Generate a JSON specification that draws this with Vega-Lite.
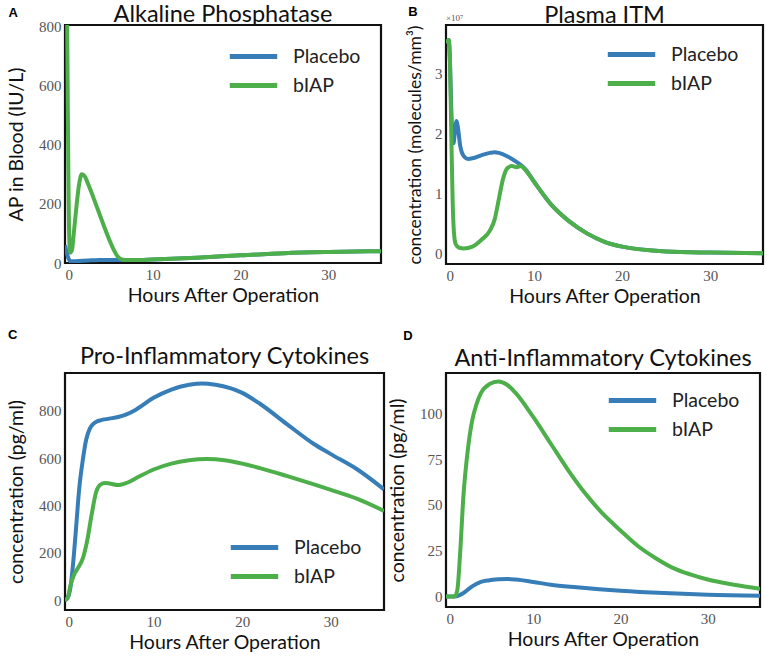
{
  "$schema": "https://vega.github.io/schema/vega-lite/v6.json",
  "padding": {"left": 5, "top": 1, "right": 5, "bottom": 5},
  "background": "white",
  "bounds": "flush",
  "config": {
    "view": {"stroke": "#111", "strokeWidth": 2.2},
    "axis": {"domain": false, "ticks": false, "grid": false, "labelFont": "Liberation Serif", "labelFontSize": 15, "labelColor": "#555", "titleFont": "Lato", "titleFontSize": 19.5, "titleFontWeight": "normal", "titleColor": "#111", "labelPadding": 4},
    "axisX": {"titlePadding": 4},
    "title": {"font": "Lato", "fontSize": 23.5, "fontWeight": "normal", "color": "#111", "frame": "group"},
    "legend": {"symbolType": "M-1.5,0H1.5", "symbolStrokeWidth": 5, "symbolSize": 1000, "labelFont": "Lato", "labelFontSize": 19.5, "labelColor": "#222", "title": null, "orient": "none", "labelOffset": 21, "rowPadding": -1}
  },
  "datasets": {
    "curves": [
      {"p": "A", "g": "Placebo", "t": 0, "v": 60}, {"p": "A", "g": "Placebo", "t": 0.2, "v": 35}, {"p": "A", "g": "Placebo", "t": 0.4, "v": 15}, {"p": "A", "g": "Placebo", "t": 0.6, "v": 6}, {"p": "A", "g": "Placebo", "t": 1, "v": 6}, {"p": "A", "g": "Placebo", "t": 2, "v": 8}, {"p": "A", "g": "Placebo", "t": 3, "v": 9}, {"p": "A", "g": "Placebo", "t": 4, "v": 10}, {"p": "A", "g": "Placebo", "t": 5, "v": 10}, {"p": "A", "g": "Placebo", "t": 6, "v": 10}, {"p": "A", "g": "Placebo", "t": 7, "v": 10}, {"p": "A", "g": "Placebo", "t": 8, "v": 10}, {"p": "A", "g": "Placebo", "t": 10, "v": 12}, {"p": "A", "g": "Placebo", "t": 15, "v": 18}, {"p": "A", "g": "Placebo", "t": 20, "v": 26}, {"p": "A", "g": "Placebo", "t": 25, "v": 33}, {"p": "A", "g": "Placebo", "t": 30, "v": 37}, {"p": "A", "g": "Placebo", "t": 36, "v": 40},
      {"p": "A", "g": "bIAP", "t": 0, "v": 2000}, {"p": "A", "g": "bIAP", "t": 0.2, "v": 1000}, {"p": "A", "g": "bIAP", "t": 0.3, "v": 600}, {"p": "A", "g": "bIAP", "t": 0.4, "v": 250}, {"p": "A", "g": "bIAP", "t": 0.5, "v": 70}, {"p": "A", "g": "bIAP", "t": 0.6, "v": 35}, {"p": "A", "g": "bIAP", "t": 0.8, "v": 45}, {"p": "A", "g": "bIAP", "t": 1.0, "v": 100}, {"p": "A", "g": "bIAP", "t": 1.3, "v": 190}, {"p": "A", "g": "bIAP", "t": 1.6, "v": 265}, {"p": "A", "g": "bIAP", "t": 1.9, "v": 300}, {"p": "A", "g": "bIAP", "t": 2.2, "v": 295}, {"p": "A", "g": "bIAP", "t": 2.6, "v": 270}, {"p": "A", "g": "bIAP", "t": 3, "v": 240}, {"p": "A", "g": "bIAP", "t": 3.5, "v": 200}, {"p": "A", "g": "bIAP", "t": 4, "v": 160}, {"p": "A", "g": "bIAP", "t": 4.5, "v": 120}, {"p": "A", "g": "bIAP", "t": 5, "v": 82}, {"p": "A", "g": "bIAP", "t": 5.5, "v": 48}, {"p": "A", "g": "bIAP", "t": 6, "v": 22}, {"p": "A", "g": "bIAP", "t": 6.5, "v": 12}, {"p": "A", "g": "bIAP", "t": 7, "v": 10}, {"p": "A", "g": "bIAP", "t": 8, "v": 10}, {"p": "A", "g": "bIAP", "t": 10, "v": 12}, {"p": "A", "g": "bIAP", "t": 15, "v": 18}, {"p": "A", "g": "bIAP", "t": 20, "v": 26}, {"p": "A", "g": "bIAP", "t": 25, "v": 33}, {"p": "A", "g": "bIAP", "t": 30, "v": 37}, {"p": "A", "g": "bIAP", "t": 36, "v": 40},

      {"p": "B", "g": "Placebo", "t": 0, "v": 3.5}, {"p": "B", "g": "Placebo", "t": 0.3, "v": 3.55}, {"p": "B", "g": "Placebo", "t": 0.45, "v": 3.2}, {"p": "B", "g": "Placebo", "t": 0.6, "v": 2.4}, {"p": "B", "g": "Placebo", "t": 0.75, "v": 1.9}, {"p": "B", "g": "Placebo", "t": 0.85, "v": 1.83}, {"p": "B", "g": "Placebo", "t": 1.0, "v": 2.0}, {"p": "B", "g": "Placebo", "t": 1.2, "v": 2.2}, {"p": "B", "g": "Placebo", "t": 1.35, "v": 2.1}, {"p": "B", "g": "Placebo", "t": 1.6, "v": 1.8}, {"p": "B", "g": "Placebo", "t": 2.0, "v": 1.62}, {"p": "B", "g": "Placebo", "t": 2.5, "v": 1.57}, {"p": "B", "g": "Placebo", "t": 3, "v": 1.58}, {"p": "B", "g": "Placebo", "t": 4, "v": 1.63}, {"p": "B", "g": "Placebo", "t": 5, "v": 1.67}, {"p": "B", "g": "Placebo", "t": 5.5, "v": 1.68}, {"p": "B", "g": "Placebo", "t": 6, "v": 1.67}, {"p": "B", "g": "Placebo", "t": 7, "v": 1.61}, {"p": "B", "g": "Placebo", "t": 8, "v": 1.52}, {"p": "B", "g": "Placebo", "t": 9, "v": 1.4}, {"p": "B", "g": "Placebo", "t": 10, "v": 1.19}, {"p": "B", "g": "Placebo", "t": 12, "v": 0.8}, {"p": "B", "g": "Placebo", "t": 14, "v": 0.53}, {"p": "B", "g": "Placebo", "t": 16, "v": 0.33}, {"p": "B", "g": "Placebo", "t": 18, "v": 0.19}, {"p": "B", "g": "Placebo", "t": 20, "v": 0.11}, {"p": "B", "g": "Placebo", "t": 25, "v": 0.03}, {"p": "B", "g": "Placebo", "t": 30, "v": 0.01}, {"p": "B", "g": "Placebo", "t": 36, "v": 0.0},
      {"p": "B", "g": "bIAP", "t": 0, "v": 3.5}, {"p": "B", "g": "bIAP", "t": 0.3, "v": 3.55}, {"p": "B", "g": "bIAP", "t": 0.45, "v": 3.2}, {"p": "B", "g": "bIAP", "t": 0.6, "v": 2.0}, {"p": "B", "g": "bIAP", "t": 0.75, "v": 0.9}, {"p": "B", "g": "bIAP", "t": 0.9, "v": 0.35}, {"p": "B", "g": "bIAP", "t": 1.1, "v": 0.15}, {"p": "B", "g": "bIAP", "t": 1.5, "v": 0.09}, {"p": "B", "g": "bIAP", "t": 2, "v": 0.08}, {"p": "B", "g": "bIAP", "t": 3, "v": 0.11}, {"p": "B", "g": "bIAP", "t": 4, "v": 0.22}, {"p": "B", "g": "bIAP", "t": 5, "v": 0.38}, {"p": "B", "g": "bIAP", "t": 5.5, "v": 0.55}, {"p": "B", "g": "bIAP", "t": 6, "v": 0.9}, {"p": "B", "g": "bIAP", "t": 6.5, "v": 1.25}, {"p": "B", "g": "bIAP", "t": 7, "v": 1.42}, {"p": "B", "g": "bIAP", "t": 7.5, "v": 1.45}, {"p": "B", "g": "bIAP", "t": 8, "v": 1.43}, {"p": "B", "g": "bIAP", "t": 8.5, "v": 1.45}, {"p": "B", "g": "bIAP", "t": 9, "v": 1.39}, {"p": "B", "g": "bIAP", "t": 10, "v": 1.19}, {"p": "B", "g": "bIAP", "t": 12, "v": 0.8}, {"p": "B", "g": "bIAP", "t": 14, "v": 0.53}, {"p": "B", "g": "bIAP", "t": 16, "v": 0.33}, {"p": "B", "g": "bIAP", "t": 18, "v": 0.19}, {"p": "B", "g": "bIAP", "t": 20, "v": 0.11}, {"p": "B", "g": "bIAP", "t": 25, "v": 0.03}, {"p": "B", "g": "bIAP", "t": 30, "v": 0.01}, {"p": "B", "g": "bIAP", "t": 36, "v": 0.0},

      {"p": "C", "g": "Placebo", "t": 0, "v": 0}, {"p": "C", "g": "Placebo", "t": 0.3, "v": 10}, {"p": "C", "g": "Placebo", "t": 0.6, "v": 50}, {"p": "C", "g": "Placebo", "t": 1.0, "v": 190}, {"p": "C", "g": "Placebo", "t": 1.3, "v": 330}, {"p": "C", "g": "Placebo", "t": 1.6, "v": 470}, {"p": "C", "g": "Placebo", "t": 2.0, "v": 590}, {"p": "C", "g": "Placebo", "t": 2.4, "v": 680}, {"p": "C", "g": "Placebo", "t": 2.8, "v": 725}, {"p": "C", "g": "Placebo", "t": 3.2, "v": 745}, {"p": "C", "g": "Placebo", "t": 3.6, "v": 755}, {"p": "C", "g": "Placebo", "t": 4, "v": 760}, {"p": "C", "g": "Placebo", "t": 5, "v": 767}, {"p": "C", "g": "Placebo", "t": 6, "v": 774}, {"p": "C", "g": "Placebo", "t": 7, "v": 786}, {"p": "C", "g": "Placebo", "t": 8, "v": 805}, {"p": "C", "g": "Placebo", "t": 10, "v": 855}, {"p": "C", "g": "Placebo", "t": 12, "v": 890}, {"p": "C", "g": "Placebo", "t": 14, "v": 910}, {"p": "C", "g": "Placebo", "t": 15.5, "v": 916}, {"p": "C", "g": "Placebo", "t": 17, "v": 910}, {"p": "C", "g": "Placebo", "t": 20, "v": 876}, {"p": "C", "g": "Placebo", "t": 22, "v": 830}, {"p": "C", "g": "Placebo", "t": 25, "v": 745}, {"p": "C", "g": "Placebo", "t": 28, "v": 662}, {"p": "C", "g": "Placebo", "t": 30, "v": 617}, {"p": "C", "g": "Placebo", "t": 33, "v": 552}, {"p": "C", "g": "Placebo", "t": 36, "v": 468},
      {"p": "C", "g": "bIAP", "t": 0, "v": 0}, {"p": "C", "g": "bIAP", "t": 0.3, "v": 8}, {"p": "C", "g": "bIAP", "t": 0.6, "v": 60}, {"p": "C", "g": "bIAP", "t": 1.0, "v": 105}, {"p": "C", "g": "bIAP", "t": 1.5, "v": 138}, {"p": "C", "g": "bIAP", "t": 2, "v": 175}, {"p": "C", "g": "bIAP", "t": 2.5, "v": 250}, {"p": "C", "g": "bIAP", "t": 3, "v": 360}, {"p": "C", "g": "bIAP", "t": 3.5, "v": 455}, {"p": "C", "g": "bIAP", "t": 4, "v": 488}, {"p": "C", "g": "bIAP", "t": 4.5, "v": 495}, {"p": "C", "g": "bIAP", "t": 5, "v": 493}, {"p": "C", "g": "bIAP", "t": 6, "v": 486}, {"p": "C", "g": "bIAP", "t": 7, "v": 496}, {"p": "C", "g": "bIAP", "t": 8, "v": 515}, {"p": "C", "g": "bIAP", "t": 10, "v": 552}, {"p": "C", "g": "bIAP", "t": 12, "v": 577}, {"p": "C", "g": "bIAP", "t": 14, "v": 591}, {"p": "C", "g": "bIAP", "t": 16, "v": 596}, {"p": "C", "g": "bIAP", "t": 18, "v": 591}, {"p": "C", "g": "bIAP", "t": 20, "v": 577}, {"p": "C", "g": "bIAP", "t": 22, "v": 558}, {"p": "C", "g": "bIAP", "t": 25, "v": 525}, {"p": "C", "g": "bIAP", "t": 28, "v": 490}, {"p": "C", "g": "bIAP", "t": 30, "v": 466}, {"p": "C", "g": "bIAP", "t": 33, "v": 428}, {"p": "C", "g": "bIAP", "t": 36, "v": 377},

      {"p": "D", "g": "Placebo", "t": 0, "v": 0}, {"p": "D", "g": "Placebo", "t": 1.0, "v": 0}, {"p": "D", "g": "Placebo", "t": 1.5, "v": 0.6}, {"p": "D", "g": "Placebo", "t": 2, "v": 1.8}, {"p": "D", "g": "Placebo", "t": 3, "v": 5.5}, {"p": "D", "g": "Placebo", "t": 4, "v": 7.9}, {"p": "D", "g": "Placebo", "t": 5, "v": 8.8}, {"p": "D", "g": "Placebo", "t": 6, "v": 9.4}, {"p": "D", "g": "Placebo", "t": 7, "v": 9.5}, {"p": "D", "g": "Placebo", "t": 8, "v": 9.2}, {"p": "D", "g": "Placebo", "t": 10, "v": 7.9}, {"p": "D", "g": "Placebo", "t": 12, "v": 6.4}, {"p": "D", "g": "Placebo", "t": 15, "v": 5}, {"p": "D", "g": "Placebo", "t": 20, "v": 3.1}, {"p": "D", "g": "Placebo", "t": 25, "v": 1.8}, {"p": "D", "g": "Placebo", "t": 30, "v": 0.9}, {"p": "D", "g": "Placebo", "t": 36, "v": 0.4},
      {"p": "D", "g": "bIAP", "t": 0, "v": 0}, {"p": "D", "g": "bIAP", "t": 1.0, "v": 0}, {"p": "D", "g": "bIAP", "t": 1.3, "v": 3.5}, {"p": "D", "g": "bIAP", "t": 1.6, "v": 22}, {"p": "D", "g": "bIAP", "t": 2, "v": 55}, {"p": "D", "g": "bIAP", "t": 2.5, "v": 80}, {"p": "D", "g": "bIAP", "t": 3, "v": 96}, {"p": "D", "g": "bIAP", "t": 3.5, "v": 105}, {"p": "D", "g": "bIAP", "t": 4, "v": 111}, {"p": "D", "g": "bIAP", "t": 5, "v": 116}, {"p": "D", "g": "bIAP", "t": 6, "v": 117.4}, {"p": "D", "g": "bIAP", "t": 7, "v": 115.6}, {"p": "D", "g": "bIAP", "t": 8, "v": 111}, {"p": "D", "g": "bIAP", "t": 10, "v": 98}, {"p": "D", "g": "bIAP", "t": 12, "v": 83.5}, {"p": "D", "g": "bIAP", "t": 14, "v": 69}, {"p": "D", "g": "bIAP", "t": 16, "v": 56}, {"p": "D", "g": "bIAP", "t": 18, "v": 45}, {"p": "D", "g": "bIAP", "t": 20, "v": 36}, {"p": "D", "g": "bIAP", "t": 22, "v": 27.5}, {"p": "D", "g": "bIAP", "t": 24, "v": 21}, {"p": "D", "g": "bIAP", "t": 26, "v": 15.6}, {"p": "D", "g": "bIAP", "t": 28, "v": 12}, {"p": "D", "g": "bIAP", "t": 30, "v": 9.2}, {"p": "D", "g": "bIAP", "t": 33, "v": 6.4}, {"p": "D", "g": "bIAP", "t": 36, "v": 4.2}
    ]
  },
  "columns": 2,
  "spacing": {"row": 109, "column": 62},
  "resolve": {"legend": {"color": "independent"}},
  "concat": [
    {
      "width": 316, "height": 238,
      "title": {"text": "Alkaline Phosphatase", "offset": -19},
      "layer": [
        {
          "data": {"name": "curves"},
          "transform": [{"filter": "datum.p == 'A'"}],
          "mark": {"type": "line", "clip": true, "strokeWidth": 4, "interpolate": "monotone"},
          "encoding": {
            "x": {"field": "t", "type": "quantitative", "scale": {"domain": [0, 36], "nice": false}, "axis": {"values": [0, 10, 20, 30], "title": "Hours After Operation"}},
            "y": {"field": "v", "type": "quantitative", "scale": {"domain": [0, 805], "nice": false, "zero": false}, "axis": {"values": [0, 200, 400, 600, 800], "title": "AP in Blood (IU/L)", "titlePadding": 12}},
            "color": {"field": "g", "type": "nominal", "scale": {"domain": ["Placebo", "bIAP"], "range": ["#377eb8", "#4daf4a"]}, "legend": {"legendX": 170, "legendY": 13}}
          }
        },
        {
          "data": {"values": [{"label": "A"}]},
          "mark": {"type": "text", "font": "Liberation Sans", "fontWeight": "bold", "fontSize": 13, "color": "#000"},
          "encoding": {"text": {"field": "label"}, "x": {"datum": -5.9}, "y": {"datum": 844}}
        }
      ]
    },
    {
      "width": 317, "height": 239,
      "title": {"text": "Plasma ITM", "offset": -21},
      "layer": [
        {
          "data": {"name": "curves"},
          "transform": [{"filter": "datum.p == 'B'"}],
          "mark": {"type": "line", "clip": true, "strokeWidth": 4, "interpolate": "monotone"},
          "encoding": {
            "x": {"field": "t", "type": "quantitative", "scale": {"domain": [0, 36], "nice": false}, "axis": {"values": [0, 10, 20, 30], "title": "Hours After Operation"}},
            "y": {"field": "v", "type": "quantitative", "scale": {"domain": [-0.18, 3.8], "nice": false, "zero": false}, "axis": {"values": [0, 1, 2, 3], "format": "d", "title": "concentration (molecules/mm³)", "titleFontSize": 17.5, "titlePadding": 10}},
            "color": {"field": "g", "type": "nominal", "scale": {"domain": ["Placebo", "bIAP"], "range": ["#377eb8", "#4daf4a"]}, "legend": {"legendX": 167, "legendY": 11}}
          }
        },
        {
          "data": {"values": [{"label": "B"}]},
          "mark": {"type": "text", "font": "Liberation Sans", "fontWeight": "bold", "fontSize": 13, "color": "#000"},
          "encoding": {"text": {"field": "label"}, "x": {"datum": -3.75}, "y": {"datum": 4.01}}
        },
        {
          "data": {"values": [{"label": "×10⁷"}]},
          "mark": {"type": "text", "font": "Liberation Serif", "fontSize": 9, "color": "#555", "align": "left", "baseline": "bottom"},
          "encoding": {"text": {"field": "label"}, "x": {"datum": 0}, "y": {"datum": 3.84}}
        }
      ]
    },
    {
      "width": 319, "height": 237,
      "title": {"text": "Pro-Inflammatory Cytokines", "offset": -40},
      "layer": [
        {
          "data": {"name": "curves"},
          "transform": [{"filter": "datum.p == 'C'"}],
          "mark": {"type": "line", "clip": true, "strokeWidth": 4, "interpolate": "monotone"},
          "encoding": {
            "x": {"field": "t", "type": "quantitative", "scale": {"domain": [0, 36], "nice": false}, "axis": {"values": [0, 10, 20, 30], "title": "Hours After Operation"}},
            "y": {"field": "v", "type": "quantitative", "scale": {"domain": [-42, 960], "nice": false, "zero": false}, "axis": {"values": [0, 200, 400, 600, 800], "title": "concentration (pg/ml)", "titlePadding": 12}},
            "color": {"field": "g", "type": "nominal", "scale": {"domain": ["Placebo", "bIAP"], "range": ["#377eb8", "#4daf4a"]}, "legend": {"legendX": 171, "legendY": 156}}
          }
        },
        {
          "data": {"values": [{"label": "C"}]},
          "mark": {"type": "text", "font": "Liberation Sans", "fontWeight": "bold", "fontSize": 13, "color": "#000"},
          "encoding": {"text": {"field": "label"}, "x": {"datum": -5.9}, "y": {"datum": 1121}}
        }
      ]
    },
    {
      "width": 314, "height": 234,
      "title": {"text": "Anti-Inflammatory Cytokines", "offset": -40},
      "layer": [
        {
          "data": {"name": "curves"},
          "transform": [{"filter": "datum.p == 'D'"}],
          "mark": {"type": "line", "clip": true, "strokeWidth": 4, "interpolate": "monotone"},
          "encoding": {
            "x": {"field": "t", "type": "quantitative", "scale": {"domain": [0, 36], "nice": false}, "axis": {"values": [0, 10, 20, 30], "title": "Hours After Operation"}},
            "y": {"field": "v", "type": "quantitative", "scale": {"domain": [-5.8, 122], "nice": false, "zero": false}, "axis": {"values": [0, 25, 50, 75, 100], "title": "concentration (pg/ml)", "titlePadding": 12}},
            "color": {"field": "g", "type": "nominal", "scale": {"domain": ["Placebo", "bIAP"], "range": ["#377eb8", "#4daf4a"]}, "legend": {"legendX": 168, "legendY": 9}}
          }
        },
        {
          "data": {"values": [{"label": "D"}]},
          "mark": {"type": "text", "font": "Liberation Sans", "fontWeight": "bold", "fontSize": 13, "color": "#000"},
          "encoding": {"text": {"field": "label"}, "x": {"datum": -4.36}, "y": {"datum": 142.2}}
        }
      ]
    }
  ]
}
